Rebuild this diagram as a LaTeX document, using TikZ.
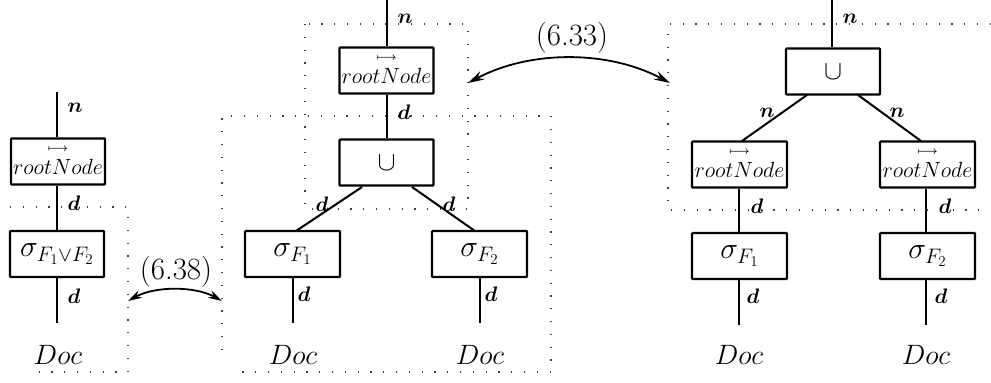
\RequirePackage{fix-cm}
\documentclass[tikz,border=0pt]{standalone}
\usetikzlibrary{arrows.meta,positioning}
\tikzset{
  x=1pt,y=-1pt,
  opbox/.style={draw,line width=2.2pt,inner sep=0pt,rectangle,rounded corners=0.8pt,minimum width=#1,minimum height=46pt,font=\fontsize{22}{26}\selectfont},
  opbox/.default=94pt,
  sigtext/.style={font=\fontsize{30}{34}\selectfont},
  edge/.style={line width=2pt},
  lab/.style={inner sep=0pt,font=\fontsize{21}{24}\selectfont\boldmath},
  doc/.style={inner sep=0pt,font=\fontsize{28}{32}\selectfont},
  bound/.style={line width=1.2pt,black!75,dash pattern=on 1.2pt off 11.6pt},
  rule/.style={inner sep=0pt,font=\fontsize{31}{35}\selectfont},
  swap/.style={line width=1.8pt,{Stealth[length=16pt,width=9pt]}-{Stealth[length=16pt,width=9pt]}}
}
\newcommand{\rn}{\raisebox{2pt}{$\mathop{rootNode}\limits^{\raisebox{6pt}{\boldmath$\scriptscriptstyle\longmapsto$}}$}}
\begin{document}
\begin{tikzpicture}
\useasboundingbox (0,0) rectangle (991,383);
% dotted regions
\draw[bound] (10,207) -- (128,207) -- (128,372) -- (37,372);
\draw[bound] (222,350) -- (222,116) -- (551,116) -- (551,372) -- (235,372);
\draw[bound] (305,24) rectangle (468,209);
\draw[bound] (991,24) -- (668,24) -- (668,210) -- (991,210);
% left
\node[opbox] (lroot) at (58,161.5) {\rn};
\node[opbox,sigtext] (lsig) at (57,254) {$\sigma_{F_1\vee F_2}$};
\node[doc] (ldoc) at (58,355) {$Doc$};
\coordinate (ltop) at (57,92);
\coordinate (lend) at (57,323);
\draw[edge] (ltop) -- (lroot.north -| ltop);
\draw[edge] (lroot.south -| ltop) -- (lsig.north -| ltop);
\draw[edge] (lsig.south -| lend) -- (lend);
\node[lab] (ln) at (75,108) {$n$};
\node[lab] (ld1) at (74,203) {$d$};
\node[lab] (ld2) at (74,296) {$d$};
% middle
\node[opbox] (mroot) at (386.5,70.5) {\rn};
\node[opbox] (mcup) at (386.5,162.5) {\fontsize{27}{30}\selectfont$\cup$};
\node[opbox=95pt,sigtext] (msa) at (292.5,254) {$\sigma_{F_1}$};
\node[opbox=95pt,sigtext] (msb) at (479.5,254) {$\sigma_{F_2}$};
\node[doc] (mda) at (293,355) {$Doc$};
\node[doc] (mdb) at (480,355) {$Doc$};
\coordinate (mtop) at (387,0);
\coordinate (mea) at (293,323);
\coordinate (meb) at (480,323);
\coordinate (mja) at (296,231);
\coordinate (mjb) at (475,231);
\coordinate (mca) at (362,187);
\coordinate (mcb) at (412,187);
\draw[edge] (mtop) -- (mroot.north -| mtop);
\draw[edge] (mroot.south -| mtop) -- (mcup.north -| mtop);
\draw[edge] (mca) -- (mja);
\draw[edge] (mcb) -- (mjb);
\draw[edge] (msa.south -| mea) -- (mea);
\draw[edge] (msb.south -| meb) -- (meb);
\node[lab] (mn) at (405,19) {$n$};
\node[lab] (md) at (404,112) {$d$};
\node[lab] (mdl) at (322,204) {$d$};
\node[lab] (mdr) at (449,204) {$d$};
\node[lab] (mdb1) at (304,294) {$d$};
\node[lab] (mdb2) at (491,294) {$d$};
% right
\node[opbox] (rcup) at (833,71.5) {\fontsize{27}{30}\selectfont$\cup$};
\node[opbox=95pt] (rra) at (739.5,164.5) {\rn};
\node[opbox=95pt] (rrb) at (927.5,164.5) {\rn};
\node[opbox=95pt,sigtext] (rsa) at (739.5,256) {$\sigma_{F_1}$};
\node[opbox=95pt,sigtext] (rsb) at (927.5,256) {$\sigma_{F_2}$};
\node[doc] (rda) at (739,355) {$Doc$};
\node[doc] (rdb) at (926,355) {$Doc$};
\coordinate (rtop) at (832,0);
\coordinate (rja) at (742,141);
\coordinate (rjb) at (921,141);
\coordinate (rca) at (807,95);
\coordinate (rcb) at (858,95);
\coordinate (rxa) at (739,325);
\coordinate (rxb) at (926,325);
\draw[edge] (rtop) -- (rcup.north -| rtop);
\draw[edge] (rca) -- (rja);
\draw[edge] (rcb) -- (rjb);
\draw[edge] (rra.south -| rxa) -- (rsa.north -| rxa);
\draw[edge] (rrb.south -| rxb) -- (rsb.north -| rxb);
\draw[edge] (rsa.south -| rxa) -- (rxa);
\draw[edge] (rsb.south -| rxb) -- (rxb);
\node[lab] (rn) at (850,19) {$n$};
\node[lab] (rnl) at (767,113) {$n$};
\node[lab] (rnr) at (897,113) {$n$};
\node[lab] (rd1) at (757,206) {$d$};
\node[lab] (rd2) at (945,206) {$d$};
\node[lab] (rd3) at (753,296) {$d$};
\node[lab] (rd4) at (941,296) {$d$};
% rules
\node[rule] (r33) at (572,38) {(6.33)};
\node[rule] (r38) at (176,272) {(6.38)};
\coordinate (a33) at (468,83);
\coordinate (b33) at (670,83);
\coordinate (a38) at (128,301);
\coordinate (b38) at (222,301);
\draw[swap] (a33) .. controls (530,50) and (608,50) .. (b33);
\draw[swap,{Stealth[length=14pt,width=8pt]}-{Stealth[length=14pt,width=8pt]}] (a38) .. controls (155,286) and (195,286) .. (b38);
\end{tikzpicture}
\end{document}
